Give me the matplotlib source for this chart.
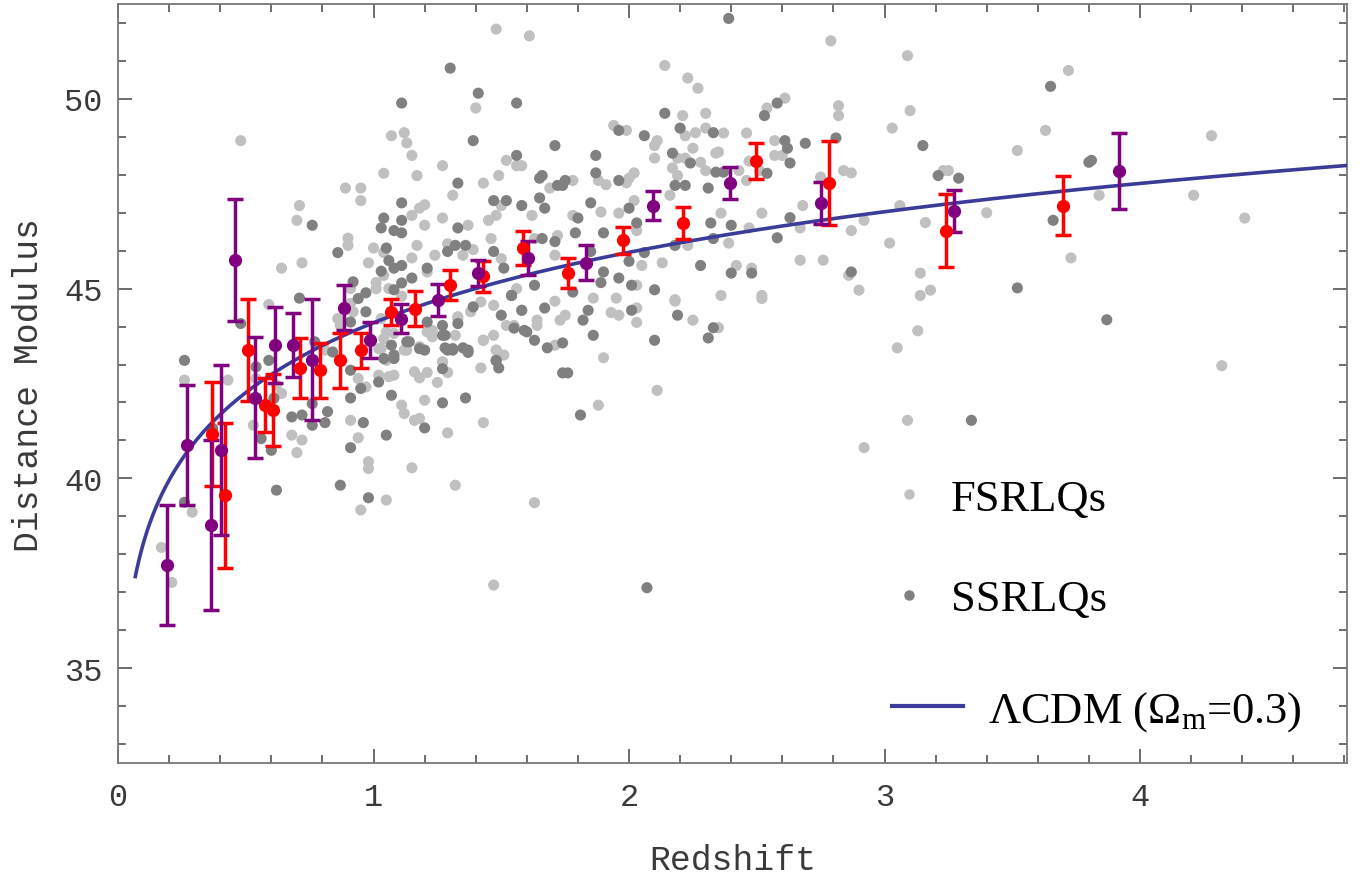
import numpy as np
import matplotlib
matplotlib.use("Agg")
import matplotlib.pyplot as plt
from matplotlib.lines import Line2D

plt.rcParams['mathtext.fontset'] = 'custom'
plt.rcParams['mathtext.rm'] = 'Liberation Serif'
plt.rcParams['mathtext.it'] = 'Liberation Serif:italic'

# FSRLQs (light grey points)
fsrlq_z = [0.48, 1.07, 1.12, 1.13, 1.15, 1.04, 1.17, 0.89, 0.95, 0.95, 0.71, 0.70, 1.15, 0.90, 0.90,
           1.00, 1.04, 0.98, 0.72, 0.64, 1.15, 1.17, 1.04, 1.01, 0.91, 1.01, 1.06, 1.11, 0.59,
           2.14, 1.40, 2.23, 2.27, 2.21, 2.30, 1.94, 1.99, 2.11, 2.10, 2.22, 2.26, 2.30, 2.25, 2.34,
           2.10, 2.19, 2.17, 2.22, 2.28, 2.30, 2.19, 2.16, 1.52, 1.56, 1.58, 1.27, 1.49, 2.02, 2.00,
           1.78, 1.88, 1.91, 1.99, 1.43, 1.69, 1.31, 1.62, 1.50, 1.89, 1.96, 2.02, 1.78, 1.48, 1.45,
           1.37, 1.27, 1.20, 2.03, 2.13, 2.23, 2.18, 2.05, 2.03, 1.95, 1.86, 1.72, 1.71, 1.63, 1.56,
           1.50, 1.46, 1.39, 1.29, 1.24, 1.21, 1.35,
           0.92, 1.03, 1.05, 1.03, 1.05, 1.13, 1.21, 1.23, 1.33, 1.27, 1.48, 1.43, 1.47, 1.38, 1.42,
           1.55, 0.87, 0.81, 1.20, 1.18,
           0.26, 0.43, 0.29, 0.17, 0.21, 0.53, 0.54, 0.64, 0.62, 0.68, 0.72, 0.70, 0.91, 0.94, 0.98,
           0.98, 0.95, 1.05, 1.15, 0.94, 0.97, 1.02, 1.06, 1.11, 1.12, 1.16, 1.08, 1.16, 1.02, 1.12,
           1.08, 1.04, 0.91, 0.86,
           1.23, 1.32, 1.33, 1.18, 1.27, 1.29, 1.21, 1.25, 1.18, 1.20, 1.18, 1.29, 1.43, 1.32, 1.63,
           1.47, 1.42, 1.43, 1.47, 1.48, 1.51, 1.52, 1.64, 1.64, 1.71, 1.58, 1.71, 1.73, 1.75, 1.90,
           1.88, 1.93, 1.96, 2.03, 2.03, 2.11, 2.25, 2.18,
           2.79, 3.09, 2.54, 2.61, 2.82, 2.82, 3.10, 3.03, 2.37, 2.46, 2.57, 2.57, 2.60, 2.47, 2.51,
           2.43, 2.46, 2.35, 2.84, 2.87, 3.52, 3.23, 3.25, 2.75, 2.36, 2.52, 2.68, 2.47, 2.39, 2.67,
           2.87, 2.92, 3.06, 3.16, 3.02, 3.40, 2.67, 2.76, 2.42, 2.48, 2.86, 3.14, 2.90, 2.36, 2.52,
           3.14, 3.18,
           3.72, 3.63, 4.28, 3.84, 4.21, 4.41, 3.73,
           3.13, 3.05, 3.09, 2.92, 2.52, 2.35, 4.32, 1.48, 1.61]
fsrlq_mu = [48.90, 49.03, 49.11, 48.84, 48.51, 48.04, 47.98, 47.65, 47.65, 47.32, 47.19, 46.80, 46.93, 46.33, 46.14,
            46.07, 45.95, 45.68, 45.68, 45.54, 45.81, 46.14, 45.35, 45.16, 45.00, 45.00, 45.00, 44.80, 44.58,
            50.88, 49.76, 50.55, 50.28, 49.56, 49.62, 49.30, 49.17, 48.90, 48.77, 49.03, 49.11, 49.23, 48.70, 48.57,
            48.44, 48.44, 48.18, 48.44, 48.33, 48.11, 47.98, 47.46, 48.38, 48.24, 48.24, 48.24, 47.98, 48.05, 47.91,
            47.85, 47.85, 47.74, 47.79, 47.78, 47.65, 47.46, 46.93, 47.19, 47.02, 46.99, 47.32, 46.93, 46.93, 46.80,
            46.67, 46.86, 46.67, 46.53, 45.68, 46.14, 44.71, 45.61, 45.09, 44.75, 44.75, 46.40, 45.88, 46.32, 45.00,
            45.79, 46.32, 46.03, 46.18, 45.88, 45.44, 45.88,
            44.39, 44.21, 43.86, 43.42, 43.11, 43.38, 43.86, 43.73, 44.21, 43.07, 43.38, 43.64, 44.56, 44.39, 44.65,
            44.03, 44.03, 43.38, 47.21, 47.12,
            42.59, 42.59, 39.11, 38.18, 37.26, 41.40, 42.63, 42.24, 42.46, 41.14, 41.01, 40.68, 41.53, 41.07, 40.44,
            40.26, 39.17, 39.43, 40.28, 42.63, 42.41, 42.72, 42.68, 41.93, 41.71, 41.53, 42.72, 42.81, 43.42, 43.38,
            43.82, 43.68, 44.61, 44.21,
            43.90, 43.77, 44.26, 43.47, 43.07, 42.79, 42.79, 42.53, 42.65, 42.06, 41.58, 41.20, 41.47, 39.82, 39.36,
            37.19, 42.91, 43.64, 43.77, 43.38, 43.25, 44.03, 44.03, 44.17, 43.51, 44.43, 44.67, 44.17, 44.30, 43.18,
            41.93, 44.37, 44.30, 44.49, 44.11, 42.32, 44.17, 44.67,
            51.53, 51.14, 49.76, 50.02, 49.82, 49.56, 49.69, 49.23, 49.10, 49.10, 48.90, 48.51, 48.51, 48.36, 48.11,
            48.11, 47.85, 48.60, 48.11, 48.05, 48.64, 48.11, 48.11, 47.94, 46.99, 46.99, 47.19, 46.60, 46.20, 46.60,
            46.53, 46.80, 47.19, 46.74, 46.20, 47.00, 45.75, 45.75, 45.61, 45.54, 45.35, 45.41, 44.96, 44.82, 44.82,
            44.82, 44.96,
            50.75, 49.17, 49.03, 47.46, 47.46, 46.86, 45.81,
            43.89, 43.44, 41.53, 40.81, 44.74, 43.97, 42.97, 51.84, 51.66]

# SSRLQs (dark grey points)
ssrlq_z = [1.11, 0.76, 1.11, 1.04, 1.11, 1.03, 1.08, 1.11, 0.86, 1.05, 1.06, 1.08, 1.11, 1.03, 1.11,
           1.15, 0.92, 0.97, 1.08, 0.71, 0.94,
           1.30, 1.41, 1.56, 2.14, 1.39, 1.71, 1.96, 2.06, 2.20, 2.33, 2.17, 2.24, 2.34, 2.18, 2.22,
           2.31, 1.56, 1.87, 1.66, 1.65, 1.87, 1.75, 1.72, 1.96, 1.33, 1.74, 1.65, 1.67, 1.47, 1.52,
           1.58, 1.85, 2.00, 1.80, 1.33, 1.79, 1.90, 2.03, 2.06, 2.28, 2.32, 2.18, 2.10, 2.33, 1.96,
           2.00, 2.01, 1.90, 1.89, 1.78, 1.71, 1.85, 1.66, 1.63, 1.54, 1.51, 1.47, 1.36, 1.32, 1.21,
           0.91, 1.07, 1.08, 1.13, 1.18, 1.27, 1.29, 1.37, 1.31, 1.48, 1.50, 1.39, 1.54, 1.58, 1.60,
           0.77, 1.29,
           0.26, 0.26, 0.37, 0.56, 0.60, 0.59, 0.54, 0.61, 0.68, 0.72, 0.76, 0.76, 0.81, 0.82, 0.91,
           0.96, 0.91, 1.05, 0.87, 0.98, 0.62, 0.91, 0.95, 1.02, 1.07, 1.04, 1.08, 1.14, 0.97, 0.84,
           0.48,
           1.21, 1.27, 1.28, 1.33, 1.28, 1.31, 1.20, 1.35, 1.37, 1.27, 1.27, 1.36, 1.20, 2.07, 1.48,
           1.49, 1.55, 1.59, 1.63, 1.68, 1.74, 1.67, 1.82, 1.84, 1.86, 1.74, 1.76, 1.81, 2.01, 2.10,
           2.19, 2.33, 2.31,
           2.39, 2.58, 2.53, 2.81, 2.61, 2.62, 2.69, 2.63, 2.54, 2.37, 3.15, 3.29, 2.63, 2.40, 2.58,
           2.40, 2.48, 2.87, 3.52, 3.21,
           3.65, 3.80, 3.81, 3.66, 3.34, 3.87]
ssrlq_mu = [49.89, 46.67, 47.26, 46.86, 46.80, 46.60, 46.53, 46.47, 45.95, 46.07, 45.74, 45.54, 45.61, 45.46, 45.15,
            45.28, 45.18, 44.89, 44.97, 44.75, 44.74,
            50.81, 50.15, 49.89, 49.62, 48.90, 48.77, 49.17, 49.03, 49.23, 49.11, 48.57, 48.31, 48.07, 47.72, 47.72,
            47.65, 48.51, 48.51, 47.98, 47.91, 48.05, 47.85, 47.72, 47.85, 47.78, 47.72, 47.39, 47.12, 47.32, 47.32,
            47.19, 47.26, 47.12, 46.86, 46.60, 46.47, 46.47, 46.73, 45.95, 45.61, 46.73, 46.14, 44.97, 46.32, 45.28,
            45.72, 45.09, 45.44, 45.16, 44.91, 46.24, 45.98, 46.32, 45.09, 44.82, 45.54, 45.98, 46.14, 46.14, 45.54,
            44.12, 43.51, 43.25, 43.60, 43.42, 43.77, 43.38, 43.38, 43.42, 43.11, 44.30, 44.52, 44.82, 44.43, 43.86,
            43.60, 45.98,
            43.11, 39.37, 41.32, 41.05, 40.74, 43.11, 42.94, 42.11, 41.62, 41.67, 41.97, 41.40, 41.47, 41.76, 42.12,
            41.47, 40.81, 41.14, 39.82, 39.49, 39.69, 42.85, 42.37, 42.54, 42.19, 43.16, 43.16, 43.60, 44.39, 43.33,
            44.08,
            44.12, 44.03, 43.77, 44.08, 43.44, 43.38, 43.38, 43.44, 43.32, 42.89, 41.99, 42.12, 41.33, 37.12, 43.10,
            42.91, 43.96, 43.90, 43.64, 43.44, 43.57, 44.49, 44.17, 44.43, 43.77, 42.78, 42.78, 41.67, 44.43, 43.64,
            44.30, 43.97, 43.70,
            52.12, 49.89, 49.56, 48.97, 48.90, 48.70, 48.83, 48.31, 48.04, 48.07, 48.77, 47.91, 46.87, 46.67, 46.34,
            45.41, 45.41, 45.44, 45.02, 47.98,
            50.33, 48.33, 48.38, 46.80, 41.53, 44.18]

# binned data, red
red_z = [0.369, 0.420, 0.507, 0.574, 0.607, 0.713, 0.791, 0.870, 0.949, 1.067, 1.163, 1.300, 1.428,
         1.584, 1.761, 1.977, 2.212, 2.496, 2.781, 3.241, 3.699]
red_mu = [41.18, 39.56, 43.38, 41.93, 41.80, 42.91, 42.85, 43.11, 43.38, 44.39, 44.47, 45.09, 45.32,
          46.07, 45.42, 46.27, 46.73, 48.36, 47.78, 46.53, 47.19]
red_err = [1.37, 1.91, 1.35, 0.72, 0.95, 0.78, 0.73, 0.73, 0.46, 0.35, 0.46, 0.39, 0.40,
           0.46, 0.39, 0.35, 0.41, 0.48, 1.10, 0.96, 0.78]

# binned data, purple
pur_z = [0.192, 0.270, 0.362, 0.401, 0.457, 0.535, 0.616, 0.685, 0.761, 0.883, 0.988, 1.107, 1.251,
         1.409, 1.603, 1.832, 2.093, 2.397, 2.751, 3.271, 3.916]
pur_mu = [37.72, 40.88, 38.77, 40.74, 45.75, 42.13, 43.51, 43.51, 43.13, 44.50, 43.64, 44.21, 44.69,
          45.41, 45.81, 45.68, 47.19, 47.78, 47.26, 47.05, 48.11]
pur_err = [1.58, 1.58, 2.25, 2.24, 1.60, 1.59, 1.00, 0.85, 1.59, 0.60, 0.47, 0.38, 0.42,
           0.35, 0.45, 0.46, 0.39, 0.42, 0.55, 0.55, 1.00]

# flat LCDM model, H0 = 70, Om = 0.3
H0 = 70.0
Om = 0.3
z_grid = np.linspace(0.0, 4.82, 2000)
Ez = np.sqrt(Om * (1 + z_grid) ** 3 + (1 - Om))
dc = np.concatenate([[0.0], np.cumsum(0.5 * (1 / Ez[1:] + 1 / Ez[:-1]) * np.diff(z_grid))])
dl = (1 + z_grid) * 299792.458 / H0 * dc
keep = z_grid >= 0.067
mu_model = 5 * np.log10(dl[keep]) + 25

fig = plt.figure(figsize=(13.68, 8.79), dpi=100)
ax = fig.add_axes([0.0863, 0.1308, 0.8983, 0.8635])

ax.scatter(fsrlq_z, fsrlq_mu, s=64, color='#c0c0c0', edgecolors='none', zorder=2)
ax.scatter(ssrlq_z, ssrlq_mu, s=64, color='#808080', edgecolors='none', zorder=2)
ax.plot(z_grid[keep], mu_model, color='#3b3b9a', lw=2.6, zorder=3)
ax.errorbar(red_z, red_mu, yerr=red_err, fmt='o', color='#ff0000', ms=8.5, elinewidth=2.5,
            capsize=5.5, capthick=2.5, zorder=4)
ax.errorbar(pur_z, pur_mu, yerr=pur_err, fmt='o', color='#800080', ms=8.5, elinewidth=2.5,
            capsize=5.5, capthick=2.5, zorder=4)

ax.set_xlim(0, 4.81)
ax.set_ylim(32.5, 52.5)
ax.set_xticks([0, 1, 2, 3, 4])
ax.set_xticks(np.arange(0, 4.81, 0.2), minor=True)
ax.set_yticks([35, 40, 45, 50])
ax.set_yticks(np.arange(33, 53, 1), minor=True)
for s in ax.spines.values():
    s.set_color('#777777')
    s.set_linewidth(1.3)
ax.tick_params(which='both', direction='in', top=True, right=True, color='#555555', width=1.2,
               labelsize=23, labelcolor='#3a3a3a')
ax.tick_params(which='major', length=10)
ax.tick_params(which='minor', length=6)
ax.tick_params(axis='x', pad=14)
ax.tick_params(axis='y', pad=11)
for lab in ax.get_xticklabels() + ax.get_yticklabels():
    lab.set_family('Liberation Mono')

ax.set_xlabel('Redshift', fontsize=25, family='Liberation Mono', color='#3a3a3a', labelpad=22)
ax.set_ylabel('Distance Modulus', fontsize=25, family='Liberation Mono', color='#3a3a3a', labelpad=14)

pt_handles = [Line2D([], [], ls='none', marker='o', ms=6.5, color='#c0c0c0'),
              Line2D([], [], ls='none', marker='o', ms=6.5, color='#808080')]
leg1 = ax.legend(pt_handles, ['FSRLQs', 'SSRLQs'], loc='center left', bbox_to_anchor=(0.629, 0.282),
                 frameon=False, prop={'family': 'Liberation Serif', 'size': 32}, handlelength=0.8,
                 handletextpad=0.55, labelspacing=1.35, borderpad=0, borderaxespad=0)
ax.add_artist(leg1)
ln_handle = [Line2D([], [], color='#3b3b9a', lw=3)]
ax.legend(ln_handle, [r'ΛCDM ($\Omega_{\mathrm{m}}$=0.3)'], loc='center left', bbox_to_anchor=(0.6298, 0.068),
          frameon=False, prop={'family': 'Liberation Serif', 'size': 32}, handlelength=1.6,
          handletextpad=0.55, borderpad=0, borderaxespad=0)

fig.savefig('out.png', dpi=100)
